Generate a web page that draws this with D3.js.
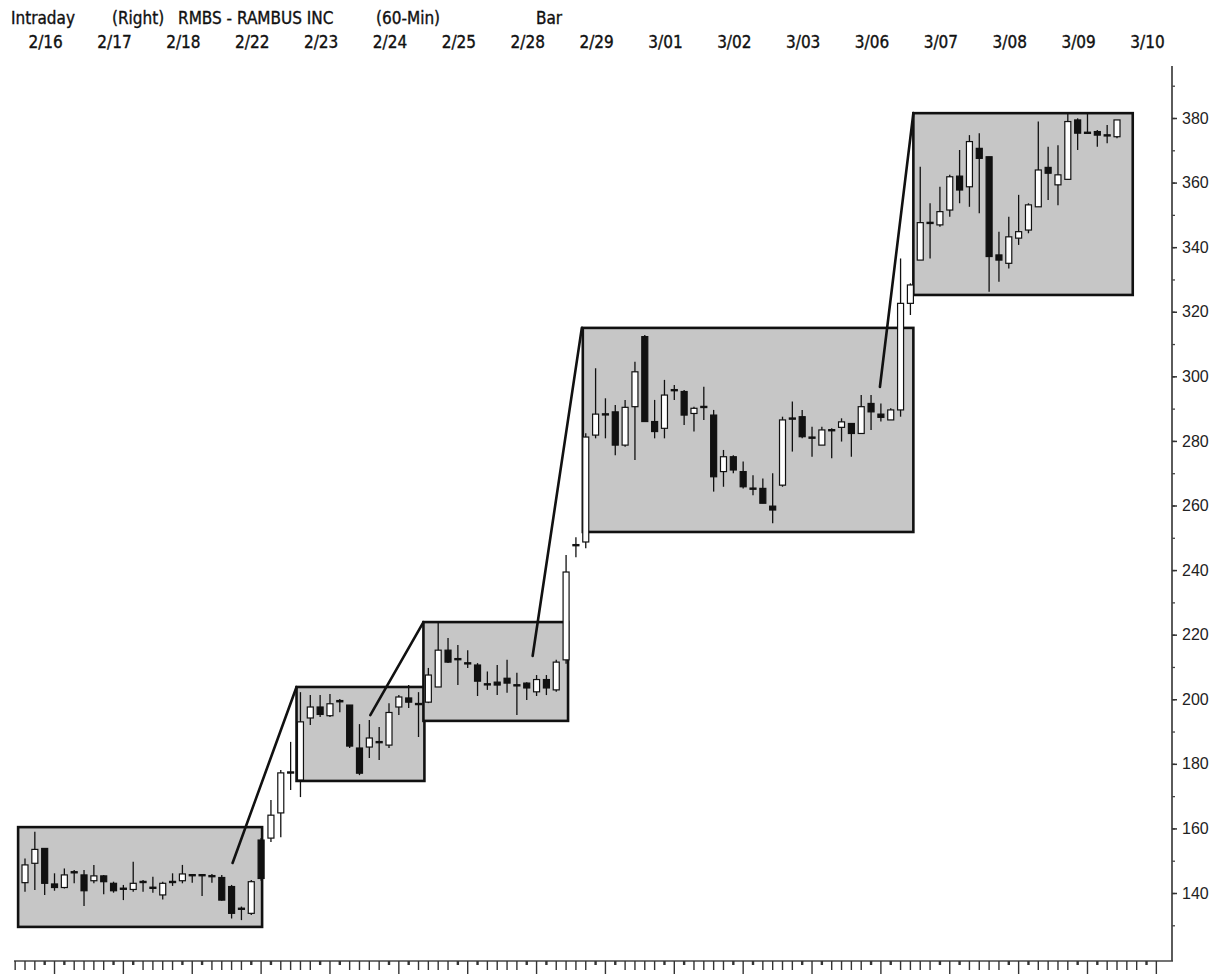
<!DOCTYPE html>
<html>
<head>
<meta charset="utf-8">
<script src="https://cdn.jsdelivr.net/npm/d3@7"></script>
<style>
  html, body { margin: 0; padding: 0; background: #fff; }
  svg { display: block; }
  .hdr { font-family: 'Liberation Sans Narrow', 'Arial Narrow', 'DejaVu Sans Condensed', sans-serif; font-size: 17px; fill: #111; stroke: #111; stroke-width: 0.35; }
  .yax text { font-family: 'Liberation Sans', Arial, sans-serif; font-size: 16px; fill: #222; }
</style>
</head>
<body>
<div id="chart"></div>
<script>
// RMBS 60-min bars, 2/16 .. 3/09 (7 bars per day)
const dayLabels = ["2/16","2/17","2/18","2/22","2/23","2/24","2/25","2/28","2/29","3/01","3/02","3/03","3/06","3/07","3/08","3/09","3/10"];
const barsPerDay = 7;

const opens = [
  143.2,149.2,153.8,142.8,141.7,146.6,145.6, 143.8,145.3,143.0,141.5,141.1,143.6,141.8,
  139.4,143.6,143.8,145.7,145.7,145.4,144.8, 142.0,135.3,133.7,156.4,157.0,164.8,177.5,
  175.0,194.2,197.6,194.9,199.6,198.2,184.9, 185.2,186.9,185.8,197.6,200.4,198.7,199.1,
  203.8,215.2,212.6,211.3,210.6,204.8,205.3, 206.5,204.5,205.0,202.3,206.1,202.9,212.2,
  247.9,248.7,281.8,288.4,289.0,278.7,290.6, 312.3,286.0,283.9,295.9,295.3,288.5,290.7,
  288.0,270.5,275.1,270.5,265.4,265.3,259.8, 266.3,287.1,287.5,281.2,278.7,283.5,284.2,
  285.4,282.3,291.6,288.3,286.5,289.6,322.6, 336.0,347.7,346.9,351.5,362.0,358.7,370.6,
  368.0,337.6,335.0,342.8,345.3,352.5,364.7, 359.3,361.0,379.4,375.6,375.8,374.8,374.2
];
const highs = [
  150.7,159.0,153.8,146.1,147.6,147.1,147.1, 148.7,145.6,143.5,142.5,149.7,144.0,145.0,
  143.5,146.1,148.7,145.9,145.9,145.9,145.6, 142.5,135.8,144.0,157.0,168.8,178.1,186.8,
  202.2,201.3,201.3,201.6,200.1,198.2,192.3, 193.6,191.4,198.8,201.3,204.4,202.2,209.7,
  223.6,219.0,216.8,215.2,211.2,208.6,210.6, 212.2,208.2,205.3,207.5,207.5,212.2,244.7,
  250.2,282.4,302.5,293.2,291.1,292.7,304.5, 312.8,292.7,298.9,297.3,295.8,290.6,296.8,
  289.6,277.2,275.6,273.6,269.4,268.4,270.0, 287.5,292.2,289.6,284.4,284.4,283.9,287.0,
  285.4,294.2,294.2,291.6,290.1,336.5,328.8, 364.9,353.6,358.7,362.4,370.1,374.7,375.3,
  368.0,344.8,349.4,356.2,353.6,378.9,371.1, 371.6,381.4,379.9,381.4,376.3,377.8,379.4
];
const lows = [
  140.4,140.9,139.4,140.7,141.4,143.0,136.0, 143.0,139.6,140.1,137.8,140.4,140.4,140.1,
  138.0,142.2,143.0,143.2,139.1,143.2,137.6, 132.1,131.6,133.2,143.8,155.8,157.3,171.9,
  169.7,192.0,194.5,194.5,196.0,184.9,176.5, 181.8,181.2,184.9,195.1,197.3,188.3,198.8,
  203.8,211.2,204.4,209.7,201.0,202.9,201.3, 202.0,195.1,199.8,201.0,201.3,202.3,211.0,
  244.0,246.8,280.8,280.8,275.6,278.2,274.1, 285.9,280.8,280.8,292.7,284.9,282.9,286.5,
  264.3,265.8,270.0,265.3,263.2,260.7,254.5, 265.8,276.7,280.8,275.1,278.7,274.6,279.8,
  275.1,282.3,283.4,286.0,286.5,287.5,319.0, 336.0,336.5,346.3,349.4,353.6,352.5,350.5,
  326.2,329.3,333.4,340.7,344.3,352.5,354.6, 353.0,360.8,370.1,375.5,371.1,372.2,373.7
];
const closes = [
  148.7,153.5,143.0,141.7,145.6,146.4,140.7, 145.3,143.5,140.7,141.3,143.0,143.4,141.6,
  143.0,143.4,145.9,145.5,145.5,145.2,137.8, 133.7,135.1,143.5,144.5,164.1,177.2,177.2,
  193.0,197.6,195.3,198.6,199.2,185.5,177.1, 188.0,186.7,195.9,200.7,199.1,198.5,207.5,
  215.2,211.5,212.4,211.1,205.6,204.6,204.4, 205.0,204.3,203.5,206.1,203.5,211.5,239.4,
  247.7,281.2,288.3,288.2,278.7,290.4,301.4, 286.0,282.9,294.2,295.7,288.0,290.1,290.5,
  268.9,275.1,271.0,265.8,265.2,260.7,258.6, 286.5,286.9,281.3,281.0,283.4,283.3,285.9,
  282.3,290.6,289.0,287.3,289.6,322.6,328.3, 347.6,347.5,351.0,361.8,357.7,372.7,367.5,
  337.1,336.0,343.2,344.8,353.1,363.9,362.9, 362.4,378.9,375.3,375.5,374.7,374.6,379.4
];

// consolidation boxes: bar index span and price range
const boxStart = [-0.7, 27.6, 40.5, 56.7, 90.3];
const boxEnd   = [24.1, 40.6, 55.2, 90.3, 112.6];
const boxLow   = [129.5, 174.7, 193.3, 251.8, 325.2];
const boxHigh  = [160.4, 203.8, 223.9, 315.0, 381.5];

// trend lines linking boxes (bar index, price)
const lineX1 = [21.1, 35.1, 51.6, 86.9];
const lineP1 = [149.3, 195.1, 213.4, 296.7];
const lineX2 = [27.6, 40.5, 56.6, 90.3];
const lineP2 = [203.8, 223.9, 315.0, 381.5];

const yLabelTicks = d3.range(140, 381, 20);
const yMinorTicks = d3.range(130, 391, 10);

const W = 1224, H = 974;
const nBars = opens.length;

const svg = d3.select("#chart").append("svg")
    .attr("width", W).attr("height", H);
svg.append("rect").attr("width", W).attr("height", H).attr("fill", "#fff");

const x = d3.scaleLinear().domain([0, nBars - 1]).range([25, 1117]);
const y = d3.scaleLinear().domain([140, 380]).range([893, 118]);

// boxes
const boxes = d3.range(boxStart.length).map(i => ({ s: boxStart[i], e: boxEnd[i], lo: boxLow[i], hi: boxHigh[i] }));
svg.append("g").selectAll("rect")
    .data(boxes)
    .enter().append("rect")
    .attr("x", d => x(d.s))
    .attr("y", d => y(d.hi))
    .attr("width", d => x(d.e) - x(d.s))
    .attr("height", d => y(d.lo) - y(d.hi))
    .attr("fill", "#c6c6c6")
    .attr("stroke", "#111")
    .attr("stroke-width", 2.6);

// candles
const bars = d3.range(nBars).map(i => ({ i, o: opens[i], h: highs[i], l: lows[i], c: closes[i] }));
const bw = 6;
const cg = svg.append("g").selectAll("g")
    .data(bars)
    .enter().append("g");

cg.append("line")
    .attr("x1", d => x(d.i)).attr("x2", d => x(d.i))
    .attr("y1", d => y(d.h)).attr("y2", d => y(d.l))
    .attr("stroke", "#111")
    .attr("stroke-width", 1.3);

cg.append("rect")
    .attr("x", d => x(d.i) - bw / 2)
    .attr("y", d => y(Math.max(d.o, d.c)))
    .attr("width", bw)
    .attr("height", d => Math.max(1.2, Math.abs(y(d.o) - y(d.c))))
    .attr("fill", d => d.c >= d.o ? "#fff" : "#111")
    .attr("stroke", "#111")
    .attr("stroke-width", 1.2);

// trend lines
svg.append("g").selectAll("line")
    .data(d3.range(lineX1.length))
    .enter().append("line")
    .attr("x1", i => x(lineX1[i])).attr("y1", i => y(lineP1[i]))
    .attr("x2", i => x(lineX2[i])).attr("y2", i => y(lineP2[i]))
    .attr("stroke", "#111")
    .attr("stroke-width", 2.6)
    .attr("stroke-linecap", "round");

// right price axis
const axisX = 1172;
svg.append("line")
    .attr("x1", axisX).attr("x2", axisX)
    .attr("y1", 66).attr("y2", 961)
    .attr("stroke", "#333").attr("stroke-width", 1.6);

svg.append("g")
    .attr("transform", `translate(${axisX},0)`)
    .call(d3.axisRight(y).tickValues(yMinorTicks).tickSize(3).tickFormat(""))
    .call(g => g.select(".domain").remove())
    .call(g => g.selectAll("line").attr("stroke", "#444").attr("stroke-width", 1.3));

svg.append("g")
    .attr("class", "yax")
    .attr("transform", `translate(${axisX},0)`)
    .call(d3.axisRight(y).tickValues(yLabelTicks).tickSize(5).tickPadding(5).tickFormat(d3.format("d")))
    .call(g => g.select(".domain").remove())
    .call(g => g.selectAll("line").attr("stroke", "#333").attr("stroke-width", 1.5))
    .call(g => g.selectAll("text").attr("font-family", null).attr("font-size", null));

// bottom time axis
const axisY = 961;
svg.append("line")
    .attr("x1", 14).attr("x2", axisX + 1)
    .attr("y1", axisY).attr("y2", axisY)
    .attr("stroke", "#444").attr("stroke-width", 1.6);

const barTicks = d3.range(-1, nBars + 4);
const tickLen = v => {
    const m = ((v - 3) % barsPerDay + barsPerDay) % barsPerDay;
    if (m === 0) return 16;
    if (m === 1 || m === 6) return 4;
    return 9;
};
svg.append("g").selectAll("line")
    .data(barTicks)
    .enter().append("line")
    .attr("x1", v => x(v)).attr("x2", v => x(v))
    .attr("y1", axisY).attr("y2", v => axisY + tickLen(v))
    .attr("stroke", "#333")
    .attr("stroke-width", v => tickLen(v) === 4 ? 2.4 : 1.4);

// header
const hdr = svg.append("g").attr("class", "hdr");
hdr.append("text").attr("x", 11).attr("y", 24).text("Intraday");
hdr.append("text").attr("x", 112).attr("y", 24).text("(Right)");
hdr.append("text").attr("x", 178).attr("y", 24).text("RMBS - RAMBUS INC");
hdr.append("text").attr("x", 376).attr("y", 24).text("(60-Min)");
hdr.append("text").attr("x", 536).attr("y", 24).text("Bar");

hdr.selectAll("text.day")
    .data(dayLabels)
    .enter().append("text")
    .attr("class", "day")
    .attr("x", (d, i) => x(i * barsPerDay + 2.1))
    .attr("y", 48)
    .attr("text-anchor", "middle")
    .text(d => d);
</script>
</body>
</html>
